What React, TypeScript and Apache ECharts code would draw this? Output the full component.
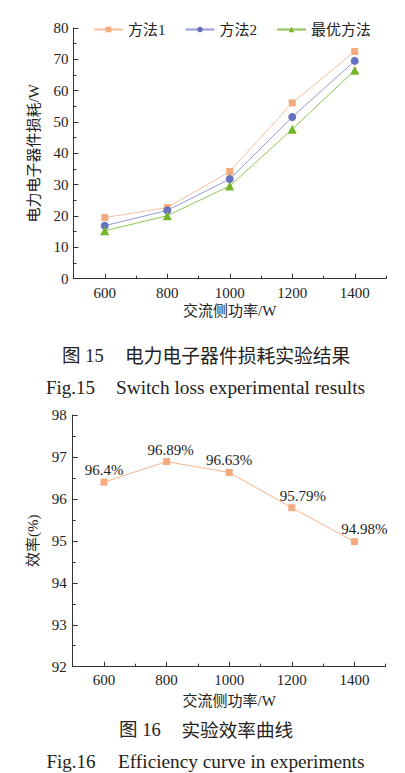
import React, { useEffect, useRef } from "react";
import * as echarts from "echarts";

const powerW = [600, 800, 1000, 1200, 1400];
const method1Loss = [19.5, 22.7, 34.2, 56.1, 72.5];
const method2Loss = [16.9, 21.8, 31.8, 51.6, 69.5];
const optimalLoss = [15.3, 20.1, 29.6, 47.7, 66.5];
const efficiency = [96.4, 96.89, 96.63, 95.79, 94.98];
const xMajorTicks = [600, 800, 1000, 1200, 1400];
const xMinorTicks = [700, 900, 1100, 1300, 1500];
const effLabelOffsets = [[0, 0], [4, 0], [0, 0], [11, 0], [10, -1]];

const FONT = "'Liberation Serif', 'Noto Sans CJK SC', serif";
const TXT = "#222";
const AX = "#333";

function xAxes(gridIndex: number, nameGap: number, labelMargin: number) {
  return [
    {
      type: "value",
      gridIndex,
      min: 500,
      max: 1500,
      interval: 100,
      name: "交流侧功率/W",
      nameLocation: "middle",
      nameGap,
      nameTextStyle: { fontFamily: FONT, fontSize: 15, color: TXT },
      axisLine: { show: true, lineStyle: { color: AX, width: 1 } },
      axisTick: { show: true, inside: true, length: 5, customValues: xMajorTicks, lineStyle: { color: AX } },
      axisLabel: {
        customValues: xMajorTicks,
        fontFamily: FONT,
        fontSize: 15,
        color: TXT,
        margin: 7 + labelMargin,
        formatter: (v: number) => String(v),
      },
      splitLine: { show: false },
    },
    {
      type: "value",
      gridIndex,
      min: 500,
      max: 1500,
      interval: 100,
      position: "bottom",
      axisLine: { show: false },
      axisTick: { show: true, inside: true, length: 3, customValues: xMinorTicks, lineStyle: { color: AX } },
      axisLabel: { show: false },
      splitLine: { show: false },
    },
  ];
}

export default function App() {
  const ref = useRef<HTMLDivElement>(null);
  useEffect(() => {
    const chart = echarts.init(ref.current!, null, { renderer: "svg" });
    const mk = (name: string, data: number[], symbol: string, size: number, mc: string, lc: string) => ({
      name,
      type: "line",
      xAxisIndex: 0,
      yAxisIndex: 0,
      data: powerW.map((x, i) => [x, data[i]]),
      symbol,
      symbolSize: size,
      itemStyle: { color: mc },
      lineStyle: { color: lc, width: 1 },
    });
    chart.setOption({
      animation: false,
      backgroundColor: "#fff",
      textStyle: { fontFamily: FONT },
      legend: {
        left: 88,
        top: 17,
        itemWidth: 29,
        itemHeight: 7,
        itemGap: 19,
        textStyle: { fontFamily: FONT, fontSize: 15, color: TXT },
        data: ["方法1", "方法2", "最优方法"],
      },
      grid: [
        { left: 73.5, top: 28, width: 312.5, height: 250.7 },
        { left: 72.7, top: 415, width: 313, height: 251.7 },
      ],
      xAxis: [...xAxes(0, 25, 0), ...xAxes(1, 27, -1)],
      yAxis: [
        {
          type: "value",
          gridIndex: 0,
          min: 0,
          max: 80,
          interval: 10,
          name: "电力电子器件损耗/W",
          nameLocation: "middle",
          nameGap: 32,
          nameTextStyle: { fontFamily: FONT, fontSize: 15, color: TXT },
          axisLine: { show: true, lineStyle: { color: AX, width: 1 } },
          axisTick: { show: true, inside: true, length: 5, lineStyle: { color: AX } },
          minorTick: { show: true, splitNumber: 2, length: 3, lineStyle: { color: AX } },
          axisLabel: { fontFamily: FONT, fontSize: 15, color: TXT, margin: 5 },
          splitLine: { show: false },
        },
        {
          type: "value",
          gridIndex: 1,
          min: 92,
          max: 98,
          interval: 1,
          name: "效率(%)",
          nameLocation: "middle",
          nameGap: 32,
          nameTextStyle: { fontFamily: FONT, fontSize: 15, color: TXT },
          axisLine: { show: true, lineStyle: { color: AX, width: 1 } },
          axisTick: { show: true, inside: true, length: 5, lineStyle: { color: AX } },
          minorTick: { show: true, splitNumber: 2, length: 3, lineStyle: { color: AX } },
          axisLabel: { fontFamily: FONT, fontSize: 15, color: TXT, margin: 6 },
          splitLine: { show: false },
        },
      ],
      series: [
        mk("方法1", method1Loss, "rect", 7, "#F2AA7E", "#F5C09E"),
        mk("方法2", method2Loss, "circle", 8, "#6671C0", "#939BD5"),
        mk("最优方法", optimalLoss, "triangle", 9, "#72B62A", "#8EC552"),
        {
          name: "效率",
          type: "line",
          xAxisIndex: 2,
          yAxisIndex: 1,
          data: powerW.map((x, i) => ({
            value: [x, efficiency[i]],
            label: { offset: effLabelOffsets[i] },
          })),
          symbol: "rect",
          symbolSize: 7,
          itemStyle: { color: "#F2AA7E" },
          lineStyle: { color: "#F5B48A", width: 1 },
          label: {
            show: true,
            position: "top",
            distance: 1,
            fontFamily: FONT,
            fontSize: 15,
            color: TXT,
            formatter: (p: any) => p.value[1] + "%",
          },
        },
      ],
      graphic: [
        { type: "text", x: 62, y: 356, style: { text: "图 15", fontFamily: FONT, fontSize: 18.5, fill: TXT, verticalAlign: "middle" } },
        { type: "text", x: 125, y: 356, style: { text: "电力电子器件损耗实验结果", fontFamily: FONT, fontSize: 18.8, fill: TXT, verticalAlign: "middle" } },
        { type: "text", x: 46, y: 387, style: { text: "Fig.15", fontFamily: FONT, fontSize: 19, fill: TXT, verticalAlign: "middle" } },
        { type: "text", x: 116, y: 387, style: { text: "Switch loss experimental results", fontFamily: FONT, fontSize: 19.3, fill: TXT, verticalAlign: "middle" } },
        { type: "text", x: 119, y: 730, style: { text: "图 16", fontFamily: FONT, fontSize: 18.5, fill: TXT, verticalAlign: "middle" } },
        { type: "text", x: 181.5, y: 730, style: { text: "实验效率曲线", fontFamily: FONT, fontSize: 18.6, fill: TXT, verticalAlign: "middle" } },
        { type: "text", x: 46.5, y: 761.5, style: { text: "Fig.16", fontFamily: FONT, fontSize: 19, fill: TXT, verticalAlign: "middle" } },
        { type: "text", x: 118, y: 761.5, style: { text: "Efficiency curve in experiments", fontFamily: FONT, fontSize: 19.3, fill: TXT, verticalAlign: "middle" } },
      ],
    });
    return () => chart.dispose();
  }, []);
  return <div ref={ref} style={{ position: "absolute", left: 0, top: 0, width: 405, height: 773 }} />;
}
